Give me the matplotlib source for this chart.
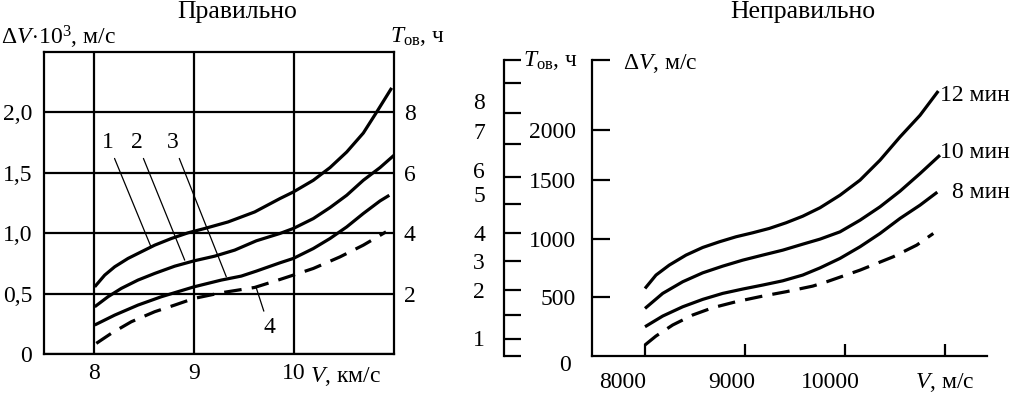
import matplotlib
matplotlib.use('Agg')
import matplotlib.pyplot as plt

plt.rcParams['font.family'] = ['Liberation Serif', 'DejaVu Serif']
plt.rcParams['mathtext.fontset'] = 'custom'
plt.rcParams['mathtext.rm'] = 'Liberation Serif'
plt.rcParams['mathtext.it'] = 'Liberation Serif:italic'
plt.rcParams['mathtext.bf'] = 'Liberation Serif:bold'

# ---------------- data: left panel ("Правильно"), V in km/s, dV*10^3 m/s
v1 = [8.007, 8.107, 8.207, 8.34, 8.473, 8.607, 8.773, 8.94, 9.107, 9.34, 9.607, 9.86, 9.993,
      10.193, 10.36, 10.527, 10.693, 10.827, 10.977]
dv1 = [0.556, 0.653, 0.722, 0.791, 0.846, 0.901, 0.956, 1.003, 1.039, 1.093, 1.176, 1.287, 1.341,
       1.438, 1.543, 1.672, 1.829, 2.003, 2.203]
v2 = [8.007, 8.14, 8.273, 8.44, 8.607, 8.807, 9.0, 9.207, 9.407, 9.623, 9.86, 9.993, 10.193,
      10.36, 10.527, 10.693, 10.86, 11.0]
dv2 = [0.391, 0.474, 0.543, 0.612, 0.667, 0.727, 0.771, 0.810, 0.860, 0.937, 0.998, 1.039, 1.121,
       1.212, 1.314, 1.438, 1.543, 1.645]
v3 = [8.007, 8.207, 8.44, 8.673, 9.0, 9.273, 9.473, 9.623, 9.86, 9.993, 10.193, 10.36, 10.527,
      10.693, 10.86, 10.953]
dv3 = [0.240, 0.322, 0.405, 0.474, 0.556, 0.612, 0.645, 0.686, 0.755, 0.791, 0.873, 0.956, 1.052,
       1.163, 1.267, 1.314]
v4 = [8.023, 8.173, 8.373, 8.607, 8.807, 9.0, 9.273, 9.607, 9.86, 9.993, 10.193, 10.46, 10.693, 10.92]
dv4 = [0.088, 0.171, 0.267, 0.350, 0.405, 0.460, 0.507, 0.551, 0.617, 0.653, 0.708, 0.804, 0.901, 1.011]
left_xticks = [8, 9, 10]
left_yticks = [0, 0.5, 1.0, 1.5, 2.0]
left_ylabels = ['0', '0,5', '1,0', '1,5', '2,0']
left_tticks = [2, 4, 6, 8]
curve_numbers = ['1', '2', '3', '4']

# ---------------- data: right panel ("Неправильно"), V in m/s, dV in m/s
r12_v = [8000, 8110, 8243, 8410, 8577, 8743, 8910, 9077, 9243, 9410, 9577, 9750, 9950, 10150,
         10350, 10550, 10750, 10933]
r12_dv = [575, 689, 774, 859, 924, 972, 1015, 1049, 1086, 1134, 1190, 1262, 1369, 1497,
          1667, 1865, 2049, 2256]
r10_v = [8000, 8177, 8377, 8577, 8777, 8977, 9177, 9377, 9577, 9750, 9950, 10150, 10350, 10550,
         10750, 10950]
r10_dv = [405, 533, 632, 708, 765, 816, 859, 901, 952, 995, 1057, 1156, 1270, 1403, 1553, 1710]
r8_v = [8000, 8177, 8377, 8577, 8777, 8977, 9177, 9377, 9577, 9750, 9950, 10150, 10350, 10550,
        10750, 10923]
r8_dv = [249, 340, 419, 482, 533, 570, 604, 640, 689, 750, 831, 930, 1043, 1171, 1284, 1395]
rd_v = [8000, 8110, 8277, 8477, 8677, 8910, 9177, 9410, 9677, 9817, 10150, 10483, 10717, 10883]
rd_dv = [94, 170, 264, 349, 411, 462, 510, 547, 595, 632, 731, 845, 944, 1043]
right_series_labels = ['12 мин', '10 мин', '8 мин']
# the "wrong" axes: tick values as drawn on the shared vertical scale
dv_ticks = [500, 1000, 1500, 1920, 2517]
dv_ticklabels = ['500', '1000', '1500', '2000', '']
v_ticks = [8000, 9000, 10000, 11000]
v_ticklabels = ['8000', '9000', '10000']
v_ticklabel_at = [7780, 8870, 9850]
t_ticks = [0, 142, 349, 561, 808, 1043, 1290, 1525, 1809, 2069, 2324, 2517]
t_labels = ['1', '2', '3', '4', '5', '6', '7', '8']
t_label_at = [136, 544, 791, 1029, 1361, 1565, 1896, 2151]

W, H = 1017, 397
fig = plt.figure(figsize=(W / 100, H / 100), dpi=100)
FS = 17
LW = 2.3


def px_axes(x0, y0, x1, y1):
    return fig.add_axes([x0 / W, 1 - y1 / H, (x1 - x0) / W, (y1 - y0) / H])


# ======================= left panel =======================
ax = px_axes(44, 52, 394, 354)
ax.set_xlim(7.5, 11.0)
ax.set_ylim(0, 2.5)
for s in ax.spines.values():
    s.set_linewidth(1.6)
ax.set_xticks(left_xticks)
ax.set_xticklabels([str(t) for t in left_xticks])
ax.set_yticks(left_yticks)
ax.set_yticklabels(left_ylabels)
ax.tick_params(length=0, labelsize=FS)
ax.tick_params(axis='y', pad=8.6)
ax.tick_params(axis='x', pad=6.5)
ax.grid(True, color='black', linewidth=1.6)
ax.set_axisbelow(True)

ax.plot(v1, dv1, color='black', lw=LW, solid_capstyle='butt', solid_joinstyle='round')
ax.plot(v2, dv2, color='black', lw=LW, solid_capstyle='butt', solid_joinstyle='round')
ax.plot(v3, dv3, color='black', lw=LW, solid_capstyle='butt', solid_joinstyle='round')
ax.plot(v4, dv4, color='black', lw=LW, dashes=(5.5, 3.2))

lead = dict(arrowstyle='-', lw=0.9, color='black', shrinkA=2, shrinkB=0)
ax.annotate(curve_numbers[0], xy=(8.567, 0.893), xytext=(8.14, 1.75),
            ha='center', va='center', fontsize=FS, arrowprops=lead)
ax.annotate(curve_numbers[1], xy=(8.907, 0.777), xytext=(8.43, 1.75),
            ha='center', va='center', fontsize=FS, arrowprops=lead)
ax.annotate(curve_numbers[2], xy=(9.323, 0.639), xytext=(8.79, 1.75),
            ha='center', va='center', fontsize=FS, arrowprops=lead)
ax.annotate(curve_numbers[3], xy=(9.62, 0.554), xytext=(9.75, 0.223),
            ha='center', va='center', fontsize=FS, arrowprops=lead)

axt = ax.twinx()
axt.set_ylim(0, 10)
axt.set_yticks(left_tticks)
axt.set_yticklabels([str(t) for t in left_tticks])
axt.tick_params(length=0, labelsize=FS, pad=7)
for s in axt.spines.values():
    s.set_visible(False)

fig.text(237 / W, 1 - 12 / H, 'Правильно', ha='center', va='center', fontsize=18.5)
fig.text(1 / W, 1 - 37 / H, r'$\Delta V\!\cdot\!\mathit{10}^{3}$, м/с', ha='left', va='center', fontsize=FS)
fig.text(390 / W, 1 - 37 / H, r'$T_{\mathrm{ов}}$, ч', ha='left', va='center', fontsize=FS)
fig.text(310 / W, 1 - 376 / H, r'$V$, км/с', ha='left', va='center', fontsize=FS)

# ======================= right panel =======================
ar = px_axes(592, 60, 987, 356)
ar.set_xlim(7470, 11420)
ar.set_ylim(0, 2520)
ar.patch.set_visible(False)
for k in ('top', 'right'):
    ar.spines[k].set_visible(False)
for k in ('left', 'bottom'):
    ar.spines[k].set_linewidth(1.6)
ar.set_yticks(dv_ticks)
ar.set_yticklabels(dv_ticklabels)
ar.tick_params(axis='y', direction='in', length=13, width=1.6, labelsize=FS, pad=11.5)
ar.set_xticks(v_ticks)
ar.set_xticklabels([])
ar.tick_params(axis='x', direction='in', length=8.6, width=1.6)

ar.plot(r12_v, r12_dv, color='black', lw=LW, solid_capstyle='butt', solid_joinstyle='round')
ar.plot(r10_v, r10_dv, color='black', lw=LW, solid_capstyle='butt', solid_joinstyle='round')
ar.plot(r8_v, r8_dv, color='black', lw=LW, solid_capstyle='butt', solid_joinstyle='round')
ar.plot(rd_v, rd_dv, color='black', lw=LW, dashes=(5.5, 3.2))

ar.text(10950, 2219, right_series_labels[0], ha='left', va='center', fontsize=FS)
ar.text(10950, 1730, right_series_labels[1], ha='left', va='center', fontsize=FS)
ar.text(11070, 1390, right_series_labels[2], ha='left', va='center', fontsize=FS)

xt = ar.get_xaxis_transform()
for lab, pos in zip(v_ticklabels, v_ticklabel_at):
    ar.text(pos, -27 / 296, lab, transform=xt, ha='center', va='center', fontsize=FS, clip_on=False)
ar.text(10700, -27 / 296, r'$V$, м/с', transform=xt, ha='left', va='center',
        fontsize=FS, clip_on=False)
ar.text(7200, -77, '0', ha='center', va='center', fontsize=FS, clip_on=False)
ar.text(7780, 2491, r'$\Delta V$, м/с', ha='left', va='center', fontsize=FS, clip_on=False)

# T axis (separate scale line)
at = px_axes(504, 60, 554, 356)
at.set_ylim(0, 2520)
at.set_xlim(0, 1)
at.patch.set_visible(False)
for k in ('top', 'right', 'bottom'):
    at.spines[k].set_visible(False)
at.spines['left'].set_linewidth(1.6)
at.set_xticks([])
at.set_yticks(t_ticks)
at.set_yticklabels([])
at.tick_params(axis='y', direction='in', length=12.2, width=1.6)
for lab, pos in zip(t_labels, t_label_at):
    at.text(-0.5, pos, lab, ha='center', va='center', fontsize=FS, clip_on=False)
at.text(0.38, 2517, r'$T_{\mathrm{ов}}$, ч', ha='left', va='center', fontsize=FS, clip_on=False)

fig.text(803 / W, 1 - 12 / H, 'Неправильно', ha='center', va='center', fontsize=18.5)

fig.savefig('out.png', dpi=100)
